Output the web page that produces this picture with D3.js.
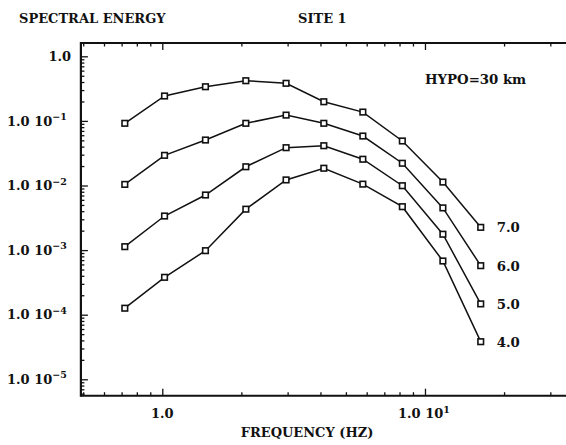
<!DOCTYPE html>
<html>
<head>
<meta charset="utf-8">
<script src="https://cdn.jsdelivr.net/npm/d3@7/dist/d3.min.js"></script>
<style>
  html, body { margin: 0; padding: 0; background: #fff; }
  svg { display: block; }
  text { font-family: "DejaVu Serif", serif; font-weight: bold; fill: #111; }
</style>
</head>
<body>
<svg id="chart" width="566" height="445"></svg>
<script>
// Spectral energy vs frequency, one curve per magnitude (site 1, hypocentral distance 30 km)
const frequencies = [0.72, 1.02, 1.46, 2.08, 2.96, 4.12, 5.8, 8.2, 11.7, 16.3];
const magnitudes = ["7.0", "6.0", "5.0", "4.0"];
const energyM7 = [0.0918, 0.243, 0.338, 0.419, 0.382, 0.198, 0.137, 0.0489, 0.0113, 0.00225];
const energyM6 = [0.0104, 0.0293, 0.0506, 0.0918, 0.123, 0.0918, 0.0583, 0.0221, 0.00450, 0.000574];
const energyM5 = [0.00113, 0.00337, 0.00713, 0.0195, 0.0385, 0.0413, 0.0255, 0.00993, 0.00176, 0.000147];
const energyM4 = [0.000126, 0.000379, 0.00098, 0.0043, 0.0122, 0.0185, 0.0105, 0.0047, 0.000678, 0.0000382];
const seriesValues = [energyM7, energyM6, energyM5, energyM4];
const xMajorTicks = [1, 10];
const yMajorExponents = [0, -1, -2, -3, -4, -5];

const svg = d3.select("#chart");

const x = d3.scaleLog().domain([0.49, 50]).range([80.9, 608.6]);
const y = d3.scaleLog().domain([Math.pow(10, -5.254), Math.pow(10, 0.206)]).range([395.7, 43.0]);

const [x0, x1] = x.range();
const [yb, yt] = y.range();

// minor ticks: 2..9 within each decade
function minorTicks(scale) {
  const [a, b] = scale.domain();
  const out = [];
  for (let e = Math.floor(Math.log10(a)); e <= Math.ceil(Math.log10(b)); e++) {
    for (let m = 2; m <= 9; m++) {
      const v = m * Math.pow(10, e);
      if (v > a && v < b) out.push(v);
    }
  }
  return out;
}
const xMinor = minorTicks(x);
const yMinor = minorTicks(y);
const yMajor = yMajorExponents.map(e => Math.pow(10, e));

function tickAxis(axis, size, values) {
  return axis.tickValues(values).tickSize(size).tickSizeOuter(0).tickFormat("");
}

// bottom axis (ticks point inward)
svg.append("g").attr("transform", `translate(0,${yb})`)
  .call(tickAxis(d3.axisBottom(x), -3.5, xMinor));
svg.append("g").attr("transform", `translate(0,${yb})`)
  .call(tickAxis(d3.axisBottom(x), -7, xMajorTicks));
// top axis
svg.append("g").attr("transform", `translate(0,${yt})`)
  .call(tickAxis(d3.axisTop(x), -3.5, xMinor));
svg.append("g").attr("transform", `translate(0,${yt})`)
  .call(tickAxis(d3.axisTop(x), -7, xMajorTicks));
// left axis
svg.append("g").attr("transform", `translate(${x0},0)`)
  .call(tickAxis(d3.axisLeft(y), -3.5, yMinor));
svg.append("g").attr("transform", `translate(${x0},0)`)
  .call(tickAxis(d3.axisLeft(y), -7, yMajor));

svg.selectAll("g .domain").remove();
svg.selectAll("g .tick line").attr("stroke", "#111").attr("stroke-width", 1.3);

// frame
svg.append("line").attr("x1", x0).attr("x2", x1).attr("y1", yt).attr("y2", yt)
  .attr("stroke", "#111").attr("stroke-width", 1.8);
svg.append("line").attr("x1", x0).attr("x2", x1).attr("y1", yb).attr("y2", yb)
  .attr("stroke", "#111").attr("stroke-width", 2);
svg.append("line").attr("x1", x0).attr("x2", x0).attr("y1", yt - 1).attr("y2", yb + 1)
  .attr("stroke", "#111").attr("stroke-width", 2.2);
svg.append("line").attr("x1", x1).attr("x2", x1).attr("y1", yt).attr("y2", yb)
  .attr("stroke", "#111").attr("stroke-width", 2);

// y tick labels
yMajorExponents.forEach(e => {
  const yy = y(Math.pow(10, e)) + 4.7;
  if (e === 0) {
    svg.append("text").attr("x", 71).attr("y", yy).attr("text-anchor", "end")
      .attr("font-size", 13).text("1.0");
  } else {
    const t = svg.append("text").attr("x", 7).attr("y", yy).attr("font-size", 13);
    t.append("tspan").text("1.0 ");
    t.append("tspan").text("10");
    t.append("tspan").attr("dy", -5.5).attr("font-size", 9.5).text("\u2212" + (-e));
  }
});

// x tick labels
svg.append("text").attr("x", x(1)).attr("y", 418).attr("text-anchor", "middle")
  .attr("font-size", 13).text("1.0");
{
  const t = svg.append("text").attr("x", x(10) - 27).attr("y", 418).attr("font-size", 13);
  t.append("tspan").text("1.0 ");
  t.append("tspan").text("10");
  t.append("tspan").attr("dy", -5.5).attr("font-size", 9.5).text("1");
}

// titles
svg.append("text").attr("x", 19).attr("y", 23).attr("font-size", 13).text("SPECTRAL ENERGY");
svg.append("text").attr("x", 298).attr("y", 23).attr("font-size", 13).text("SITE 1");
svg.append("text").attr("x", 425).attr("y", 84).attr("font-size", 13.3).text("HYPO=30 km");
svg.append("text").attr("x", 307).attr("y", 437).attr("text-anchor", "middle")
  .attr("font-size", 13).text("FREQUENCY (HZ)");

// curves
const line = d3.line().x(d => x(d[0])).y(d => y(d[1]));
seriesValues.forEach((vals, i) => {
  const pts = frequencies.map((f, j) => [f, vals[j]]);
  svg.append("path").datum(pts).attr("d", line)
    .attr("fill", "none").attr("stroke", "#111").attr("stroke-width", 1.5);
  svg.append("g").selectAll("rect").data(pts).join("rect")
    .attr("x", d => x(d[0]) - 2.8).attr("y", d => y(d[1]) - 2.8)
    .attr("width", 5.6).attr("height", 5.6)
    .attr("fill", "#fff").attr("stroke", "#111").attr("stroke-width", 1.6);
  const last = pts[pts.length - 1];
  svg.append("text").attr("x", x(last[0]) + 16).attr("y", y(last[1]) + 5)
    .attr("font-size", 13.3).text(magnitudes[i]);
});
</script>
</body>
</html>
